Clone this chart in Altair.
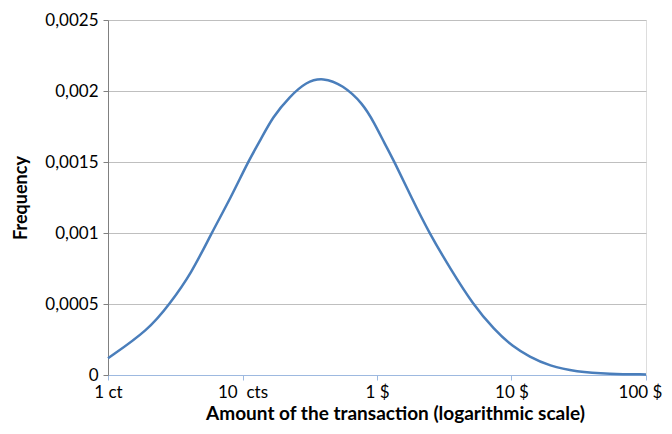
import altair as alt
import pandas as pd

# amount in cents (log scale), frequency
amount_cents = [1, 2, 2.87, 4.17, 5.87, 8.26, 10.97, 13.4, 16.8, 22.4, 29.8, 39.6, 55.7, 78.4, 95.8,
                113.7, 135, 179, 245, 356, 515, 746, 1023, 1358, 1914, 3020, 5336, 10000]
frequency = [0.000118, 0.000317, 0.0005, 0.000716, 0.000998, 0.001256, 0.0015, 0.001643, 0.001819,
             0.00196, 0.002065, 0.002096, 0.002042, 0.001913, 0.001772, 0.001632, 0.0015, 0.001256,
             0.000998, 0.000739, 0.0005, 0.000317, 0.000199, 0.000129, 0.0000634, 0.0000232,
             0.000007, 0.000004]

x_ticks = [1, 10, 100, 1000, 10000]
x_tick_labels = ["1 ct", "10\u00a0 cts", "1 $", "10 $", "100 $"]
y_ticks = [0, 0.0005, 0.001, 0.0015, 0.002, 0.0025]

df = pd.DataFrame({"amount": amount_cents, "freq": frequency})

label_expr = "{" + ",".join(f"'{v}': '{l}'" for v, l in zip(x_ticks, x_tick_labels)) + "}[toString(datum.value)]"

FONT = "Lato"

chart = alt.Chart(df).mark_line(color="#4A7EBB", strokeWidth=2.5, interpolate="basis").encode(
    x=alt.X("amount:Q",
            scale=alt.Scale(type="log", domain=[1, 10000], nice=False),
            axis=alt.Axis(values=x_ticks, labelExpr=label_expr, labelFlush=False,
                          labelOffset={"expr": "datum.value == 10000 ? -6 : 0"},
                          title="Amount of the transaction (logarithmic scale)",
                          grid=False, domainColor="#9DB9E0", tickColor="#9DB9E0",
                          tickSize=5, labelPadding=4, labelFontSize=17, labelFont=FONT,
                          labelColor="#000000", titleFont=FONT, titleFontSize=19,
                          titleFontWeight="bold", titleColor="#000000", titlePadding=4,
                          titleX=287)),
    y=alt.Y("freq:Q",
            scale=alt.Scale(domain=[0, 0.0025], nice=False),
            axis=alt.Axis(values=y_ticks, labelExpr="replace(toString(datum.value), '.', ',')",
                          title="Frequency", gridColor="#BFBFBF", gridWidth=1,
                          domainColor="#808080", tickColor="#808080", tickSize=5,
                          labelPadding=5, labelFontSize=17, labelFont=FONT, labelColor="#000000",
                          titleFont=FONT, titleFontSize=18, titleFontWeight="bold",
                          titleColor="#000000", titleX=-78)),
).properties(
    width=538, height=355,
    autosize=alt.AutoSizeParams(type="none"),
    padding={"left": 100, "top": 12, "right": 18, "bottom": 51},
).configure_view(stroke=None).configure(background="white")

chart.save("out.html", embed_options={"renderer": "svg", "actions": False})
